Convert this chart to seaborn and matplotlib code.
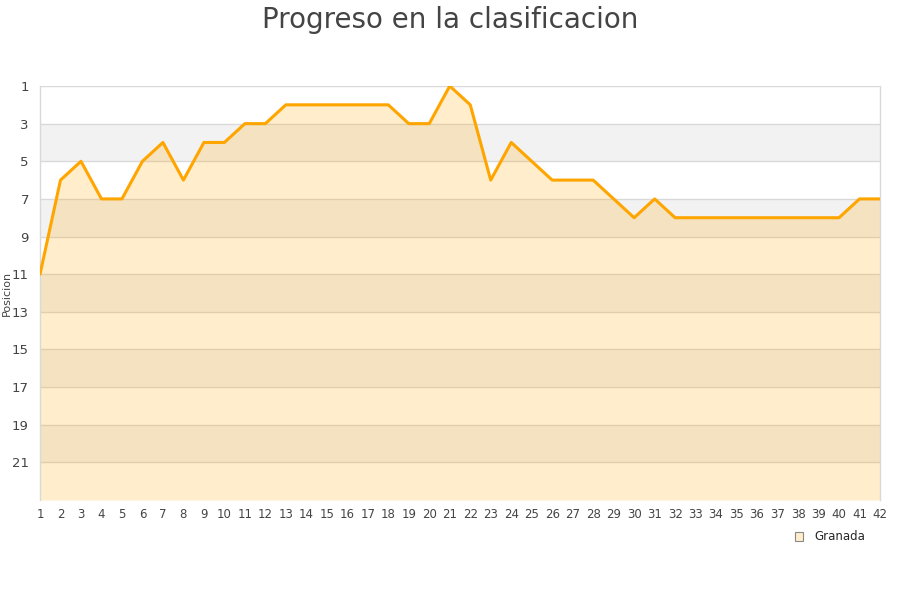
import matplotlib
matplotlib.use('Agg')
import matplotlib.pyplot as plt
import pandas as pd
import seaborn as sns
from matplotlib.patches import Patch

# Data
jornadas = list(range(1, 43))
posiciones = [11, 6, 5, 7, 7, 5, 4, 6, 4, 4,
              3, 3, 2, 2, 2, 2, 2, 2, 3, 3,
              1, 2, 6, 4, 5, 6, 6, 6, 7, 8,
              7, 8, 8, 8, 8, 8, 8, 8, 8, 8,
              7, 7]
equipo = 'Granada'
y_ticks = list(range(1, 22, 2))

df = pd.DataFrame({'Jornada': jornadas, 'Posicion': posiciones})

sns.set_style('white')
plt.rcParams['font.family'] = ['DejaVu Sans']

fig = plt.figure(figsize=(9, 6), dpi=100)
ax = fig.add_axes([40 / 900, 100 / 600, 840 / 900, 414 / 600])

# alternating bands
for lo in range(3, 23, 4):
    ax.axhspan(lo, lo + 2, color='#f2f2f2', zorder=0, lw=0)
for t in y_ticks:
    ax.axhline(t, color='#d9d9d9', lw=1, zorder=1)

ax.fill_between(df['Jornada'], df['Posicion'], 23, color='#ffa500', alpha=0.2, lw=0, zorder=2)
sns.lineplot(data=df, x='Jornada', y='Posicion', ax=ax, color='#ffa500', lw=2.2, zorder=3)

ax.set_xlim(1, 42)
ax.set_ylim(23, 1)
ax.set_xticks(jornadas)
ax.set_yticks(y_ticks)
ax.tick_params(axis='both', labelsize=8.5, colors='#444444', length=0, pad=6)
ax.tick_params(axis='y', labelsize=9.5, pad=8)
for s in ['top', 'bottom']:
    ax.spines[s].set_visible(False)
for s in ['left', 'right']:
    ax.spines[s].set_color('#d9d9d9')
    ax.spines[s].set_linewidth(1)

ax.set_xlabel('')
ax.set_ylabel('Posicion', fontsize=8, color='#444444')
ax.yaxis.set_label_coords(-0.033, 0.5)

fig.suptitle('Progreso en la clasificacion', fontsize=20, color='#444444', y=0.99)

handle = Patch(facecolor='#ffedcc', edgecolor='#888888', lw=0.8)
fig.legend([handle], [equipo], loc='center', bbox_to_anchor=(830 / 900, 1 - 537 / 600),
           frameon=False, fontsize=8.5, handlelength=0.7, handleheight=0.7, handletextpad=1.0)

fig.savefig('out.png', dpi=100)
